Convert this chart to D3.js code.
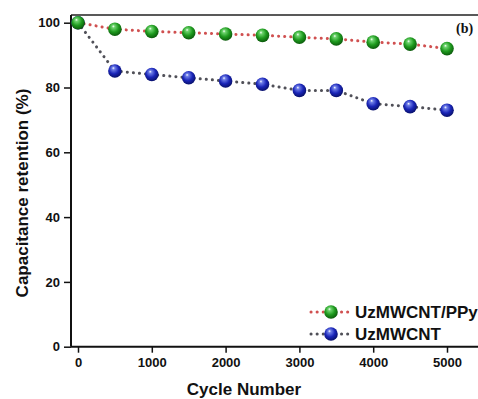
<!DOCTYPE html>
<html>
<head>
<meta charset="utf-8">
<script src="https://cdn.jsdelivr.net/npm/d3@7"></script>
<style>
  html, body { margin: 0; padding: 0; background: #fff; }
  svg { display: block; }
  text { font-family: Arial, "Liberation Sans", sans-serif; font-weight: bold; fill: #111; }
</style>
</head>
<body>
<svg id="chart" width="478" height="399"></svg>
<script>
// Cycling stability data
const cycles = [0, 500, 1000, 1500, 2000, 2500, 3000, 3500, 4000, 4500, 5000];
const ppyRetention = [100, 98, 97.3, 96.9, 96.5, 96.1, 95.5, 95, 94, 93.4, 92];
const cntRetention = [100, 85.1, 84, 83, 82, 81, 79.1, 79.1, 75, 74.1, 73];
const xTicks = [0, 1000, 2000, 3000, 4000, 5000];
const yTicks = [0, 20, 40, 60, 80, 100];
const seriesNames = ["UzMWCNT/PPy", "UzMWCNT"];

const svg = d3.select("#chart");
const W = 478, H = 399;

const x = d3.scaleLinear().domain([0, 5000]).range([78, 447]);
const y = d3.scaleLinear().domain([0, 100]).range([346.7, 22.7]);
const xLeft = x.invert(71);
const yTop = y.invert(15);

// ball gradients
const defs = svg.append("defs");
function ball(id, light, mid, dark) {
  const g = defs.append("radialGradient").attr("id", id)
    .attr("cx", "45%").attr("cy", "40%").attr("r", "60%")
    .attr("fx", "38%").attr("fy", "28%");
  g.append("stop").attr("offset", "0%").attr("stop-color", "#ffffff");
  g.append("stop").attr("offset", "18%").attr("stop-color", light);
  g.append("stop").attr("offset", "60%").attr("stop-color", mid);
  g.append("stop").attr("offset", "100%").attr("stop-color", dark);
}
ball("gGreen", "#6fd46f", "#1e9a1e", "#0b5a0b");
ball("gBlue", "#6f7fe8", "#1a25b8", "#08106a");

const series = [
  { name: seriesNames[0], values: ppyRetention, line: "#d05050", fill: "url(#gGreen)" },
  { name: seriesNames[1], values: cntRetention, line: "#505058", fill: "url(#gBlue)" }
];

// frame: top line
svg.append("line")
  .attr("x1", x(xLeft)).attr("x2", W)
  .attr("y1", y(yTop)).attr("y2", y(yTop))
  .attr("stroke", "#222").attr("stroke-width", 1.5);

// axes
const xAxis = d3.axisBottom(x).tickValues(xTicks).tickFormat(d3.format("d"))
  .tickSize(6).tickSizeOuter(0).tickPadding(5);
const gx = svg.append("g").attr("transform", `translate(0,${y(0)})`).call(xAxis);
gx.select(".domain").remove();
gx.append("line").attr("x1", x(xLeft)).attr("x2", W).attr("stroke", "#111").attr("stroke-width", 2);
gx.selectAll(".tick line").attr("stroke", "#111").attr("stroke-width", 1.5);
gx.selectAll(".tick text").style("font-size", "13px").style("font-weight", "bold")
  .style("font-family", "Arial, 'Liberation Sans', sans-serif").attr("fill", "#111");

const yAxis = d3.axisLeft(y).tickValues(yTicks).tickFormat(d3.format("d"))
  .tickSize(7).tickSizeOuter(0).tickPadding(4);
const gy = svg.append("g").attr("transform", `translate(${x(xLeft)},0)`).call(yAxis);
gy.select(".domain").remove();
gy.append("line").attr("y1", y(yTop)).attr("y2", y(0)).attr("stroke", "#111").attr("stroke-width", 2);
gy.selectAll(".tick line").attr("stroke", "#111").attr("stroke-width", 1.5);
gy.selectAll(".tick text").style("font-size", "13px").style("font-weight", "bold")
  .style("font-family", "Arial, 'Liberation Sans', sans-serif").attr("fill", "#111");

// dotted lines and ball markers
const lineGen = d3.line().x((d, i) => x(cycles[i])).y(d => y(d));
series.slice().reverse().forEach(s => {
  svg.append("path").datum(s.values)
    .attr("d", lineGen)
    .attr("fill", "none")
    .attr("stroke", s.line)
    .attr("stroke-width", 3)
    .attr("stroke-linecap", "round")
    .attr("stroke-dasharray", "0.1 6");
});
series.slice().reverse().forEach(s => {
  svg.append("g").selectAll("circle").data(s.values).join("circle")
    .attr("cx", (d, i) => x(cycles[i]))
    .attr("cy", d => y(d))
    .attr("r", 6.8)
    .attr("fill", s.fill);
});

// axis titles
svg.append("text").attr("x", 244).attr("y", 395).attr("text-anchor", "middle")
  .style("font-size", "17px").text("Cycle Number");
svg.append("text").attr("transform", "translate(28,193) rotate(-90)").attr("text-anchor", "middle")
  .style("font-size", "17px").text("Capacitance retention (%)");

// panel tag
svg.append("text").attr("x", 456).attr("y", 33)
  .style("font-family", "'Liberation Serif', 'Times New Roman', serif")
  .style("font-size", "14px").text("(b)");

// legend
const legY = [312, 334];
series.forEach((s, i) => {
  const g = svg.append("g");
  g.append("line").attr("x1", 311).attr("x2", 350)
    .attr("y1", legY[i]).attr("y2", legY[i])
    .attr("stroke", s.line).attr("stroke-width", 3)
    .attr("stroke-linecap", "round").attr("stroke-dasharray", "0.1 6");
  g.append("circle").attr("cx", 331).attr("cy", legY[i]).attr("r", 6.8).attr("fill", s.fill);
  g.append("text").attr("x", 355).attr("y", legY[i] + 6).style("font-size", "17px").text(s.name);
});
</script>
</body>
</html>
